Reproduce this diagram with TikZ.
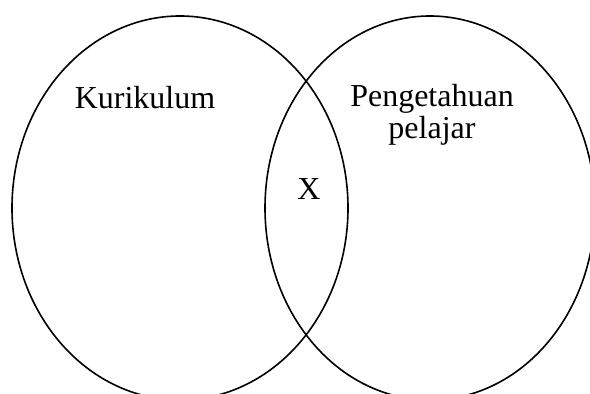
\documentclass[tikz,border=0pt]{standalone}
\usepackage{fontspec}
\setmainfont{Liberation Serif}
\usetikzlibrary{shapes.geometric}
\tikzset{
  set/.style = {draw, ellipse, line width=0.8pt, inner sep=0pt,
                minimum width=168pt, minimum height=192pt},
  lbl/.style = {font=\fontsize{16}{19}\selectfont, inner sep=0pt, anchor=base}
}
\begin{document}
\begin{tikzpicture}[x=0.5pt, y=-0.5pt]
  \useasboundingbox (0,0) rectangle (590,394);
  \clip (0,0) rectangle (590,394);
  \node[set] (kur) at (180,208) {};
  \node[set, minimum width=165pt] (peng) at (430,208) {};
  \node[lbl] (kurtext) at (145,109) {Kurikulum};
  \node[lbl] (pengtext) at (432,107) {Pengetahuan};
  \node[lbl] (peltext) at (432,139) {pelajar};
  \node[lbl] (xtext) at (309,200) {X};
\end{tikzpicture}
\end{document}
